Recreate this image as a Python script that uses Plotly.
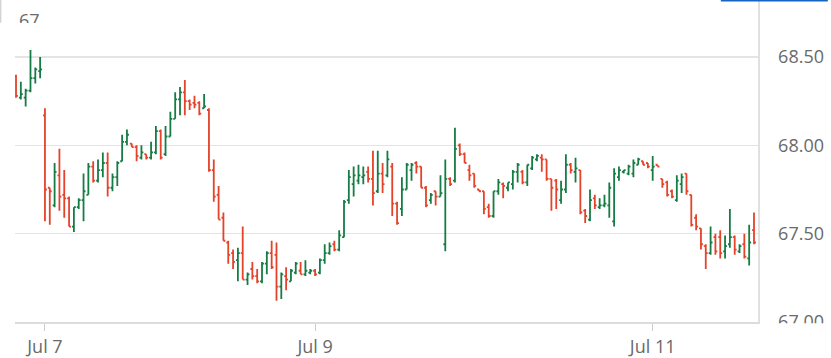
import plotly.graph_objects as go

# ---- data ----
open_ = [68.39, 68.27, 68.27, 68.31, 68.38, 68.42, 68.17, 67.76, 67.66, 67.83,
         67.72, 67.70, 67.54, 67.65, 67.69, 67.72, 67.88, 67.80, 67.86, 67.90,
         67.76, 67.82, 67.91, 68.02, 68.01, 67.99, 67.93, 67.95, 67.93, 67.96,
         68.08, 67.95, 68.05, 68.15, 68.26, 68.30, 68.25, 68.24, 68.24, 68.21,
         68.20, 67.86, 67.72, 67.59, 67.45, 67.39, 67.35, 67.39, 67.24, 67.30,
         67.26, 67.23, 67.33, 67.39, 67.38, 67.20, 67.26, 67.23, 67.28, 67.29,
         67.27, 67.28, 67.29, 67.28, 67.35, 67.39, 67.44, 67.41, 67.48, 67.69,
         67.78, 67.80, 67.82, 67.85, 67.81, 67.74, 67.84, 67.83, 67.88, 67.67,
         67.64, 67.75, 67.86, 67.90, 67.88, 67.76, 67.69, 67.74, 67.71, 67.44,
         67.81, 67.80, 68.00, 67.95, 67.86, 67.84, 67.75, 67.74, 67.65, 67.60,
         67.74, 67.78, 67.76, 67.78, 67.85, 67.85, 67.79, 67.87, 67.92, 67.93,
         67.92, 67.81, 67.80, 67.69, 67.75, 67.89, 67.85, 67.86, 67.63, 67.58,
         67.70, 67.65, 67.66, 67.66, 67.57, 67.82, 67.85, 67.84, 67.84, 67.89,
         67.91, 67.90, 67.86, 67.89, 67.81, 67.79, 67.74, 67.69, 67.78, 67.84,
         67.72, 67.59, 67.53, 67.43, 67.39, 67.48, 67.48, 67.40, 67.44, 67.48,
         67.40, 67.44, 67.36, 67.52]
high = [68.40, 68.36, 68.32, 68.54, 68.44, 68.50, 68.21, 67.76, 67.90, 67.98,
        67.86, 67.71, 67.65, 67.70, 67.84, 67.90, 67.91, 67.92, 67.96, 67.96,
        67.84, 67.91, 68.06, 68.09, 68.01, 68.00, 68.00, 67.95, 68.02, 68.11,
        68.09, 68.11, 68.19, 68.30, 68.33, 68.37, 68.26, 68.28, 68.25, 68.29,
        68.21, 67.92, 67.77, 67.62, 67.46, 67.41, 67.42, 67.54, 67.28, 67.34,
        67.30, 67.34, 67.40, 67.46, 67.45, 67.28, 67.31, 67.30, 67.34, 67.34,
        67.35, 67.30, 67.30, 67.36, 67.44, 67.45, 67.46, 67.52, 67.69, 67.86,
        67.88, 67.89, 67.88, 67.88, 67.97, 67.97, 67.90, 67.97, 67.90, 67.68,
        67.82, 67.90, 67.90, 67.91, 67.88, 67.77, 67.73, 67.74, 67.83, 67.92,
        67.82, 68.10, 68.01, 67.96, 67.89, 67.84, 67.75, 67.74, 67.67, 67.74,
        67.81, 67.79, 67.79, 67.86, 67.90, 67.86, 67.89, 67.94, 67.95, 67.95,
        67.92, 67.81, 67.81, 67.80, 67.95, 67.90, 67.93, 67.86, 67.64, 67.75,
        67.72, 67.70, 67.72, 67.79, 67.87, 67.88, 67.86, 67.89, 67.92, 67.93,
        67.91, 67.90, 67.94, 67.89, 67.81, 67.80, 67.75, 67.83, 67.84, 67.84,
        67.72, 67.61, 67.53, 67.44, 67.54, 67.50, 67.52, 67.49, 67.64, 67.49,
        67.44, 67.50, 67.55, 67.62]
low = [68.27, 68.26, 68.22, 68.30, 68.35, 68.38, 67.57, 67.55, 67.65, 67.63,
       67.59, 67.54, 67.51, 67.64, 67.57, 67.72, 67.79, 67.79, 67.82, 67.71,
       67.74, 67.77, 67.91, 68.00, 67.99, 67.91, 67.92, 67.92, 67.92, 67.95,
       67.92, 67.94, 68.05, 68.15, 68.17, 68.17, 68.20, 68.21, 68.17, 68.21,
       67.85, 67.68, 67.58, 67.46, 67.33, 67.30, 67.23, 67.24, 67.21, 67.24,
       67.22, 67.22, 67.27, 67.30, 67.12, 67.13, 67.18, 67.23, 67.27, 67.27,
       67.26, 67.27, 67.26, 67.27, 67.33, 67.38, 67.40, 67.40, 67.48, 67.67,
       67.71, 67.78, 67.78, 67.79, 67.66, 67.73, 67.73, 67.82, 67.60, 67.55,
       67.60, 67.75, 67.80, 67.84, 67.76, 67.65, 67.67, 67.66, 67.71, 67.40,
       67.77, 67.79, 67.94, 67.90, 67.80, 67.76, 67.74, 67.61, 67.59, 67.59,
       67.72, 67.70, 67.74, 67.75, 67.79, 67.78, 67.77, 67.86, 67.91, 67.85,
       67.80, 67.63, 67.64, 67.67, 67.73, 67.84, 67.79, 67.61, 67.56, 67.57,
       67.64, 67.64, 67.65, 67.59, 67.54, 67.80, 67.84, 67.83, 67.82, 67.89,
       67.89, 67.87, 67.80, 67.88, 67.76, 67.71, 67.70, 67.68, 67.73, 67.72,
       67.54, 67.52, 67.41, 67.30, 67.38, 67.38, 67.36, 67.36, 67.42, 67.38,
       67.39, 67.36, 67.32, 67.44]
close = [68.28, 68.29, 68.31, 68.38, 68.43, 68.43, 67.75, 67.74, 67.85, 67.71,
         67.70, 67.54, 67.65, 67.69, 67.74, 67.88, 67.80, 67.86, 67.90, 67.76,
         67.82, 67.90, 68.02, 68.06, 67.99, 67.94, 67.96, 67.93, 67.96, 68.08,
         67.93, 68.05, 68.15, 68.26, 68.30, 68.25, 68.23, 68.23, 68.18, 68.22,
         67.86, 67.71, 67.58, 67.46, 67.38, 67.34, 67.39, 67.24, 67.27, 67.26,
         67.23, 67.33, 67.39, 67.31, 67.20, 67.27, 67.24, 67.29, 67.33, 67.27,
         67.29, 67.29, 67.27, 67.35, 67.39, 67.43, 67.41, 67.49, 67.68, 67.82,
         67.83, 67.83, 67.83, 67.81, 67.73, 67.84, 67.78, 67.92, 67.67, 67.56,
         67.75, 67.89, 67.89, 67.88, 67.76, 67.66, 67.72, 67.71, 67.73, 67.81,
         67.78, 67.98, 67.95, 67.90, 67.83, 67.77, 67.74, 67.64, 67.60, 67.74,
         67.79, 67.77, 67.79, 67.85, 67.89, 67.79, 67.89, 67.93, 67.94, 67.92,
         67.81, 67.76, 67.75, 67.75, 67.89, 67.86, 67.87, 67.62, 67.60, 67.69,
         67.66, 67.66, 67.67, 67.76, 67.84, 67.86, 67.86, 67.88, 67.90, 67.92,
         67.89, 67.88, 67.88, 67.88, 67.78, 67.72, 67.71, 67.80, 67.82, 67.74,
         67.55, 67.54, 67.44, 67.39, 67.45, 67.40, 67.39, 67.43, 67.48, 67.41,
         67.43, 67.37, 67.45, 67.45]

day_labels = ["Jul 7", "Jul 9", "Jul 11"]
day_first_bar = [6, 62, 132]          # bar index where each labelled day begins
price_ticks = [67.0, 67.5, 68.0, 68.5]
price_tick_labels = ["67.00", "67.50", "68.00", "68.50"]

bars = list(range(len(open_)))

GREEN = "#167c45"
RED = "#e4432a"
FONT = "Open Sans, Noto Sans, sans-serif"
LABEL = "#6a6a6a"

fig = go.Figure(go.Ohlc(
    x=bars, open=open_, high=high, low=low, close=close,
    increasing=dict(line=dict(color=GREEN, width=1.8)),
    decreasing=dict(line=dict(color=RED, width=1.8)),
    tickwidth=0.4, hoverinfo="skip", showlegend=False,
))

fig.update_layout(
    width=831, height=358,
    margin=dict(l=15, r=73, t=0, b=36),
    paper_bgcolor="white", plot_bgcolor="white",
    font=dict(family=FONT, color=LABEL, size=18),
    hovermode=False,
    xaxis=dict(
        type="linear", range=[-0.21, 153.83],
        rangeslider=dict(visible=False),
        tickvals=day_first_bar, ticktext=day_labels,
        showgrid=False, zeroline=False,
        showline=True, linecolor="#dcdcdc", linewidth=2,
        ticks="outside", ticklen=7, tickcolor="#cccccc", tickwidth=1,
        tickfont=dict(size=18, color=LABEL, family=FONT),
    ),
    yaxis=dict(
        side="right", range=[67.0, 68.8226],
        tickvals=price_ticks, ticktext=price_tick_labels,
        showgrid=True, gridcolor="#e4e4e4", gridwidth=1.5,
        zeroline=False,
        showline=True, linecolor="#e0e0e0", linewidth=1.5,
        ticks="", ticklabelstandoff=15,
        tickfont=dict(size=18, color=LABEL, family=FONT),
    ),
    shapes=[
        # white mask that clips the lowest price label
        dict(type="rect", xref="paper", yref="paper", x0=1.008, x1=1.1,
             y0=-0.08, y1=-0.004, fillcolor="white", line=dict(width=0),
             layer="above"),
        # edge of the partial box at top-left
        dict(type="line", xref="paper", yref="paper", x0=-0.0193, x1=-0.0193,
             y0=1.0, y1=0.9295, line=dict(color="#d4d4d4", width=1.5)),
        # blue underline at top-right
        dict(type="line", xref="paper", yref="paper", x0=0.950, x1=1.094,
             y0=0.998, y1=0.998, line=dict(color="#1565c0", width=1.5)),
    ],
    annotations=[
        dict(text="67", xref="paper", yref="paper", x=0.004, y=1.0,
             xanchor="left", yanchor="top", yshift=-7, height=15,
             valign="top", showarrow=False, borderpad=0,
             font=dict(size=18, color=LABEL, family=FONT)),
    ],
)

fig.write_html(
    "out.html",
    config={"displayModeBar": False, "staticPlot": True},
    post_script="document.body.style.margin='0';document.body.style.overflow='hidden';",
)
